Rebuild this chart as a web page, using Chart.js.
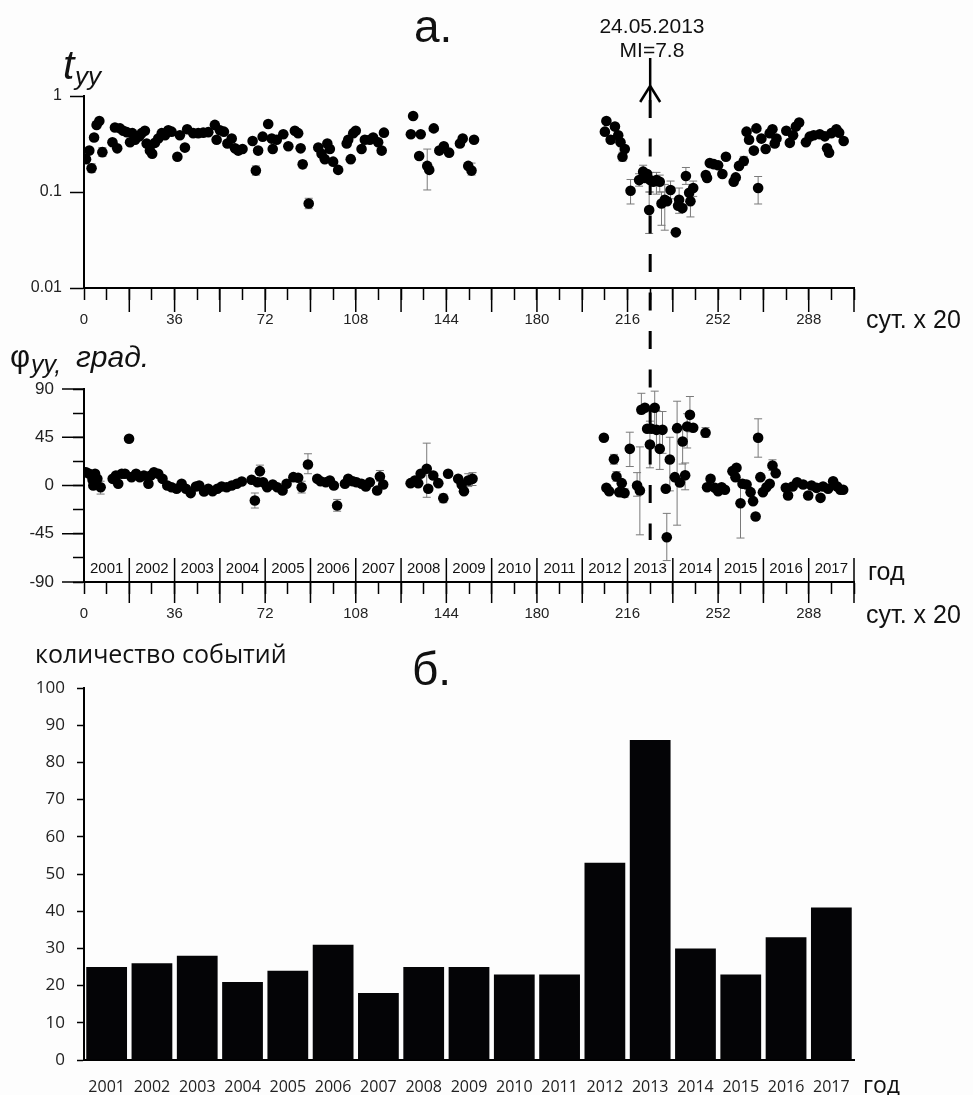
<!DOCTYPE html>
<html>
<head>
<meta charset="utf-8">
<script src="https://cdn.jsdelivr.net/npm/chart.js@4.4.0/dist/chart.umd.min.js"></script>
<style>
  html, body { margin: 0; padding: 0; background: #fdfdfd; }
  #page { position: relative; width: 973px; height: 1095px; overflow: hidden; color: #111;
          font-family: "Liberation Sans", Arial, sans-serif; }
  .box { position: absolute; left: 0; width: 973px; }
  .lbl { position: absolute; white-space: nowrap; line-height: 1; }
</style>
</head>
<body>
<div id="page">
  <div class="box" style="top:0;height:340px"><canvas id="tChart"></canvas></div>
  <div class="box" style="top:340px;height:290px"><canvas id="phChart"></canvas></div>
  <div class="box" style="top:630px;height:465px"><canvas id="cntChart"></canvas></div>

  <div class="lbl" style="left:414px;top:3px;font-size:46px">а.</div>
  <div class="lbl" style="left:552px;top:15px;width:200px;text-align:center;font-size:21px">24.05.2013</div>
  <div class="lbl" style="left:552px;top:39px;width:200px;text-align:center;font-size:21px">MI=7.8</div>
  <div class="lbl" style="left:63px;top:45px;font-size:41px;font-style:italic">t</div>
  <div class="lbl" style="left:75px;top:63px;font-size:26px;font-style:italic">yy</div>
  <div class="lbl" style="left:866px;top:307px;font-size:25px">сут. х 20</div>

  <div class="lbl" style="left:10px;top:341px;font-size:31px">φ</div>
  <div class="lbl" style="left:31px;top:352px;font-size:25px;font-style:italic">yy,</div>
  <div class="lbl" style="left:76px;top:342px;font-size:30px;font-style:italic">град.</div>
  <div class="lbl" style="left:868px;top:559px;font-size:25px">год</div>
  <div class="lbl" style="left:866px;top:602px;font-size:25px">сут. х 20</div>

  <div class="lbl" style="left:35px;top:641px;font-size:25px;font-family:'Open Sans',sans-serif">количество событий</div>
  <div class="lbl" style="left:412px;top:646px;font-size:46px">б.</div>
  <div class="lbl" style="left:863px;top:1073px;font-size:23px;font-family:'Open Sans',sans-serif">год</div>
</div>
<script>
// ---- data (x in units of 20 days) ----
const dayMax = 306;
const dayLabels = [0, 36, 72, 108, 144, 180, 216, 252, 288];
const tTicks = [0.01, 0.1, 1];
const phTicks = [-90, -45, 0, 45, 90];
const years = [2001, 2002, 2003, 2004, 2005, 2006, 2007, 2008, 2009, 2010, 2011, 2012, 2013, 2014, 2015, 2016, 2017];
const eventCounts = [25, 26, 28, 21, 24, 31, 18, 25, 25, 23, 23, 53, 86, 30, 23, 33, 41];
const quakeDay = 225;

const tDays = [0.8, 2.1, 3, 4, 5, 6.1, 7.3, 11.3, 12.3, 13.2, 14.3, 15.6, 17, 18.3, 19.2, 20.3, 22, 22.9, 24.2, 24.9,
  26.2, 27.1, 28.2, 29.5, 30.9, 32.2, 33.5, 34.8, 37.1, 38.1, 40.1, 41, 43.4, 45.4, 47.4, 49.4, 52, 52.7, 54, 55.6,
  57, 58.7, 60, 61.3, 63, 67, 68.3, 69.2, 71, 73.2, 74.6, 75, 76.6, 79.2, 81.2, 83.8, 85.1, 86.1, 86.9, 89.3,
  93.1, 94.4, 95.7, 96.7, 97.7, 99, 101, 104.4, 105, 106, 107, 108, 110.3, 111.6, 113.6, 114.9, 116.9, 118.3, 119.2,
  129.9, 130.8, 133.2, 133.8, 136.4, 137.2, 139, 141.2, 143, 145.1, 149.4, 150.5, 152.7, 154, 155,
  207, 207.6, 209.3, 211, 212.3, 213.2, 214, 214.9, 217.2, 220.6, 222.2, 222.9, 223.8, 224.6, 225, 226.2, 227.5,
  228.8, 229.5, 230.8, 231.7, 233.1, 235.2, 236.1, 236.5, 237.8, 239.2, 240.5, 241, 242.1, 247.1, 247.6, 248.7,
  250.3, 252, 253.7, 255.1, 258.2, 259, 260.3, 262.2, 263.3, 264.3, 266.2, 267.2, 267.9, 269.2, 270.9, 272.5,
  273.6, 274.5, 275.2, 279.1, 280.5, 281.8, 282.9, 284.2, 286.9, 288.4, 290, 292.4, 294.4, 295.3, 296.1, 297,
  299, 300.1, 301.9];
const tVals = [0.22, 0.27, 0.177, 0.37, 0.50, 0.55, 0.26, 0.33, 0.47, 0.285, 0.46, 0.435, 0.42, 0.33, 0.41, 0.35, 0.38, 0.41, 0.435, 0.32,
  0.27, 0.25, 0.325, 0.36, 0.41, 0.39, 0.44, 0.425, 0.233, 0.39, 0.29, 0.45, 0.41, 0.41, 0.415, 0.42, 0.50, 0.35, 0.44, 0.425,
  0.32, 0.36, 0.285, 0.27, 0.28, 0.34, 0.167, 0.27, 0.377, 0.51, 0.36, 0.28, 0.35, 0.40, 0.30, 0.435, 0.41, 0.285, 0.194, 0.076,
  0.29, 0.25, 0.22, 0.32, 0.28, 0.207, 0.17, 0.32, 0.35, 0.22, 0.41, 0.435, 0.28, 0.35, 0.35, 0.37, 0.33, 0.27, 0.415,
  0.40, 0.62, 0.237, 0.40, 0.187, 0.17, 0.46, 0.27, 0.30, 0.257, 0.32, 0.36, 0.187, 0.167, 0.35,
  0.425, 0.55, 0.35, 0.48, 0.39, 0.33, 0.233, 0.28, 0.103, 0.133, 0.163, 0.14, 0.154, 0.065, 0.133, 0.128, 0.133,
  0.128, 0.076, 0.083, 0.08, 0.105, 0.038, 0.072, 0.083, 0.068, 0.147, 0.098, 0.08, 0.11, 0.15, 0.14, 0.2,
  0.195, 0.19, 0.154, 0.233, 0.128, 0.142, 0.187, 0.21, 0.425, 0.35, 0.27, 0.46, 0.11, 0.36, 0.28, 0.41,
  0.45, 0.32, 0.36, 0.435, 0.325, 0.39, 0.48, 0.53, 0.33, 0.377, 0.39, 0.40, 0.38, 0.285, 0.257, 0.41,
  0.45, 0.415, 0.34];
const tErrDays = [3, 7.3, 68.3, 86.9, 89.3, 136.4, 154, 214, 214.9, 217.2, 220.6, 222.2, 224.6, 225, 227.5, 228.8,
  229.5, 230.8, 233.1, 236.5, 239.2, 241, 242.1, 262.2, 267.9];
const tErrLo = [0.16, 0.235, 0.15, 0.178, 0.067, 0.105, 0.15, 0.21, 0.26, 0.075, 0.115, 0.14, 0.037, 0.1, 0.095, 0.1,
  0.045, 0.04, 0.085, 0.06, 0.12, 0.055, 0.09, 0.19, 0.075];
const tErrHi = [0.197, 0.29, 0.187, 0.21, 0.086, 0.28, 0.2, 0.26, 0.30, 0.135, 0.155, 0.19, 0.1, 0.16, 0.16, 0.15,
  0.1, 0.12, 0.13, 0.11, 0.18, 0.1, 0.13, 0.235, 0.145];

const phDays = [0.8, 2.1, 3.4, 3.7, 4.4, 5.3, 6.6, 11.4, 12.7, 13.6, 15, 16.3, 17.9, 18.9, 20.7, 22.2, 23.8, 25.6, 26.5, 27.8,
  29.5, 31.2, 33.1, 34.8, 36.8, 38.8, 40.5, 42.4, 44.5, 45.8, 47.7, 49.4, 51.1, 53, 54.7, 56.7, 58.7, 60.7, 62.7,
  66.6, 67.9, 68.9, 69.9, 71.2, 72.8, 75, 76.8, 78.9, 80.5, 83.2, 85.1, 86.5, 89, 92.7, 94, 96.1, 97.7, 99.3, 100.6,
  103.7, 105, 106.8, 108.3, 110.3, 112, 113.6, 116.5, 117.6, 118.9, 129.8, 131.5, 132.8, 133.8, 136.2, 136.8, 138.8,
  140.8, 142.8, 144.7, 148.7, 150.1, 151, 152.7, 154.4,
  206.6, 207.6, 208.7, 210.6, 211.6, 212.7, 213.7, 214.8, 216.9, 219.8, 220.9, 221.5, 222.9, 223.8, 224.9, 225.5,
  226.8, 227.5, 228.8, 229.9, 231.2, 231.6, 232.8, 234.8, 235.7, 236.8, 237.9, 238.9, 239.7, 240.8, 242.1, 247,
  247.6, 249, 250.7, 252, 253.4, 254.7, 257.7, 258.9, 259.3, 260.9, 261.7, 263.3, 264.9, 265.9, 266.9, 267.9,
  268.8, 269.8, 271.2, 272.5, 273.6, 274.9, 278.9, 279.8, 281.6, 283.4, 285.8, 287.8, 289.1, 291.1, 292.7, 293.7,
  295.7, 297.7, 299.3, 300.6, 301.7];
const phVals = [12.4, 10.9, 5.3, 0, 10.9, 6.2, -1.6, 6.2, 9.3, 1.6, 10.9, 10.9, 43.6, 7.8, 10.9, 7.8, 9.3, 1.6, 9.3, 12.4,
  10.9, 6.2, 0, -1.6, -3.1, 1.6, -3.1, -7.1, -0.9, 0, -5.6, -3.1, -5.3, -3.1, -0.9, -1.6, 0, 1.6, 3.7,
  5.3, -14, 3.1, 13.4, 3.1, -1.6, 0.9, -1.6, -4.7, 1.6, 7.8, 7.2, -1.6, 19.6, 6.2, 4, 3.1, 4.7, 0, -18.7,
  1.6, 6.2, 4, 3.1, 1.6, -0.9, 3.1, -4.7, 8.4, 0.9, 2.2, 4.7, 2.2, 10.9, 15.6, -3.1, 9.3,
  2.2, -11.8, 10.9, 6.2, 0.9, -5.3, 4.7, 6.2,
  44.5, -2.2, -5.3, 24.5, 8.4, -6.2, 2.2, -7.1, 34.2, 0, -4.7, 70.6, 72.5, 52.9, 38.2, 52.9,
  72.5, 51.9, 34.2, 51.9, -3.1, -48.2, 24.3, 7.8, 53.5, 2.8, 41, 9.6, 55, 65.9, 53.8, 49.2,
  -1.6, 6.2, -2.2, -5.3, -1.6, -4, 13.4, 7.8, 16.5, -16.5, 1.6, 0.9, -6.2, -14.6, -28.9, 44.5,
  7.8, -6.2, -1.6, 1.6, 18.7, 11.5, -2.2, -9.3, -0.9, 3.1, 0.9, -9.3, 0, -2.2, -11.5, -0.9,
  -3.1, 4, -0.9, -4, -4];
const phErrDays = [6.6, 67.9, 69.9, 86.5, 89, 100.6, 117.6, 136.2, 142.8, 152.7, 154.4, 210.6, 211.6, 214.8, 216.9,
  219.8, 220.9, 221.5, 224.9, 226.8, 227.5, 228.8, 229.9, 231.6, 232.8, 235.7, 237.9, 238.9, 239.7, 240.8, 247,
  260.9, 267.9, 273.6];
const phErrLo = [-8, -21, 7, -7, 11, -24, 4, -11, -16, -1, 0, 20, 4, -11, 17.7, -10, -46, 67, 16.5, 55, 36, 15, 30,
  -70, -5, -37, 20, -4, 35, 50, 45, -49, 26.4, 14];
const phErrHi = [4, -7, 19, 4, 29.6, -13, 14, 39.5, -8, 11, 12, 29, 13, -3, 49.7, 12, 36, 86, 60, 88, 70, 52, 69,
  -26, 45, 78.6, 55, 21, 67, 83, 54, 5.6, 62.2, 24];

Chart.defaults.font.family = "'Liberation Sans', Arial, sans-serif";
Chart.defaults.color = '#222';

function points(xs, ys) {
  return xs.map((d, i) => ({ x: d, y: ys[i] }));
}

function dotSet(xs, ys) {
  return {
    data: points(xs, ys),
    pointRadius: 5.3, pointHoverRadius: 5.3,
    pointBackgroundColor: '#000', pointBorderColor: '#000', pointBorderWidth: 0
  };
}

// gray error bars with caps, drawn under the dots
function makeErrorBars(days, lo, hi) {
  return {
    id: 'errorBars',
    beforeDatasetsDraw(chart) {
      const { ctx, chartArea, scales: { x, y } } = chart;
      ctx.save();
      ctx.beginPath();
      ctx.rect(chartArea.left, chartArea.top - 4, chartArea.width, chartArea.height + 4);
      ctx.clip();
      ctx.strokeStyle = '#7a7a7a';
      ctx.lineWidth = 1;
      days.forEach((d, i) => {
        const px = x.getPixelForValue(d);
        const p1 = y.getPixelForValue(lo[i]);
        const p2 = y.getPixelForValue(hi[i]);
        ctx.beginPath();
        ctx.moveTo(px, p1); ctx.lineTo(px, p2);
        ctx.moveTo(px - 4, p1); ctx.lineTo(px + 4, p1);
        ctx.moveTo(px - 4, p2); ctx.lineTo(px + 4, p2);
        ctx.stroke();
      });
      ctx.restore();
    }
  };
}

function line(ctx, x1, y1, x2, y2) {
  ctx.beginPath(); ctx.moveTo(x1, y1); ctx.lineTo(x2, y2); ctx.stroke();
}

const dashPattern = [18, 20.5];
const dashStartY = 100;   // page y where the dashes begin

function dayAxis(height, padding) {
  return {
    type: 'linear', min: 0, max: dayMax,
    afterBuildTicks(s) {
      s.ticks = [];
      for (let v = 0; v <= dayMax; v += 9) s.ticks.push({ value: v });
    },
    afterFit(s) { s.height = height; },
    ticks: {
      autoSkip: false, maxRotation: 0, padding: padding, font: { size: 15 },
      callback: v => dayLabels.includes(v) ? String(v) : ''
    },
    grid: { drawOnChartArea: false, tickLength: 12, tickWidth: 1.5, tickColor: '#000' },
    border: { color: '#000', width: 2 }
  };
}

// ---- top panel: t_yy on a log axis ----
const tDecor = {
  id: 'tDecor',
  afterDraw(chart) {
    const { ctx, chartArea: { bottom }, scales: { x } } = chart;
    ctx.save();
    ctx.strokeStyle = '#000';
    ctx.lineWidth = 1.5;
    for (let d = 18; d <= dayMax; d += 18) {
      const px = x.getPixelForValue(d);
      line(ctx, px, bottom, px, bottom + 24);
    }
    const qx = x.getPixelForValue(quakeDay);
    ctx.lineWidth = 2.5;
    line(ctx, qx, 58, qx, dashStartY);
    line(ctx, qx - 10, 102, qx, 86);
    line(ctx, qx + 10, 102, qx, 86);
    ctx.lineWidth = 3;
    ctx.setLineDash(dashPattern);
    line(ctx, qx, dashStartY, qx, chart.height);
    ctx.restore();
  }
};

new Chart(document.getElementById('tChart'), {
  type: 'scatter',
  data: { datasets: [dotSet(tDays, tVals)] },
  options: {
    responsive: true, maintainAspectRatio: false, animation: false,
    layout: { padding: { top: 96, right: 119, left: 0, bottom: 0 } },
    plugins: { legend: { display: false }, tooltip: { enabled: false } },
    scales: {
      x: dayAxis(52, 11),
      y: {
        type: 'logarithmic', min: 0.01, max: 1,
        afterBuildTicks(s) { s.ticks = tTicks.map(v => ({ value: v })); },
        afterFit(s) { s.width = 84; },
        ticks: { padding: 8, font: { size: 16 }, callback: v => String(v) },
        grid: { drawOnChartArea: false, tickLength: 14, tickWidth: 1.5, tickColor: '#000' },
        border: { color: '#000', width: 2 }
      }
    }
  },
  plugins: [makeErrorBars(tErrDays, tErrLo, tErrHi), tDecor]
});

// ---- middle panel: phase, degrees ----
const phTop = 340;
const phDecor = {
  id: 'phDecor',
  afterDraw(chart) {
    const { ctx, chartArea: { bottom, left }, scales: { x, y } } = chart;
    ctx.save();
    ctx.strokeStyle = '#000';
    ctx.lineWidth = 1.5;
    for (let d = 18; d <= dayMax; d += 18) {
      const px = x.getPixelForValue(d);
      line(ctx, px, bottom - 24, px, bottom + 21);
    }
    phTicks.forEach(v => {
      const py = y.getPixelForValue(v);
      line(ctx, left - 22, py, left, py);
    });
    ctx.fillStyle = '#111';
    ctx.font = "15px 'Liberation Sans', Arial, sans-serif";
    ctx.textAlign = 'center';
    ctx.textBaseline = 'middle';
    years.forEach((yr, i) => ctx.fillText(String(yr), x.getPixelForValue(9 + 18 * i), bottom - 13));
    const qx = x.getPixelForValue(quakeDay);
    ctx.lineWidth = 3;
    ctx.setLineDash(dashPattern);
    ctx.lineDashOffset = (phTop - dashStartY) % (dashPattern[0] + dashPattern[1]);
    line(ctx, qx, 0, qx, 540 - phTop);
    ctx.restore();
  }
};

new Chart(document.getElementById('phChart'), {
  type: 'scatter',
  data: { datasets: [dotSet(phDays, phVals)] },
  options: {
    responsive: true, maintainAspectRatio: false, animation: false,
    layout: { padding: { top: 49, right: 119, left: 0, bottom: 0 } },
    plugins: { legend: { display: false }, tooltip: { enabled: false } },
    scales: {
      x: dayAxis(48, 11),
      y: {
        type: 'linear', min: -90, max: 90,
        afterBuildTicks(s) {
          s.ticks = [];
          for (let v = -90; v <= 90; v += 22.5) s.ticks.push({ value: v });
        },
        afterFit(s) { s.width = 84; },
        ticks: { padding: 19, font: { size: 17 }, callback: v => phTicks.includes(v) ? String(v) : '' },
        grid: { drawOnChartArea: false, tickLength: 11, tickWidth: 1.5, tickColor: '#000' },
        border: { color: '#000', width: 2 }
      }
    }
  },
  plugins: [makeErrorBars(phErrDays, phErrLo, phErrHi), phDecor]
});

// ---- bottom panel: number of events per year ----
new Chart(document.getElementById('cntChart'), {
  type: 'bar',
  data: {
    labels: years.map(String),
    datasets: [{ data: eventCounts, backgroundColor: '#040406', borderWidth: 0,
                 barPercentage: 0.9, categoryPercentage: 1 }]
  },
  options: {
    responsive: true, maintainAspectRatio: false, animation: false,
    layout: { padding: { top: 58, right: 119, left: 0, bottom: 0 } },
    plugins: { legend: { display: false }, tooltip: { enabled: false } },
    scales: {
      x: {
        afterFit(s) { s.height = 35; },
        ticks: { autoSkip: false, maxRotation: 0, padding: 18, color: '#222',
                 font: { size: 16, family: "'Open Sans', sans-serif" } },
        grid: { display: false, drawTicks: false },
        border: { color: '#000', width: 2 }
      },
      y: {
        min: 0, max: 100,
        afterFit(s) { s.width = 84; },
        ticks: { stepSize: 10, padding: 12, color: '#222', font: { size: 17, family: "'Open Sans', sans-serif" } },
        grid: { drawOnChartArea: false, tickLength: 7, tickWidth: 1.5, tickColor: '#000' },
        border: { color: '#000', width: 2 }
      }
    }
  }
});
</script>
</body>
</html>
